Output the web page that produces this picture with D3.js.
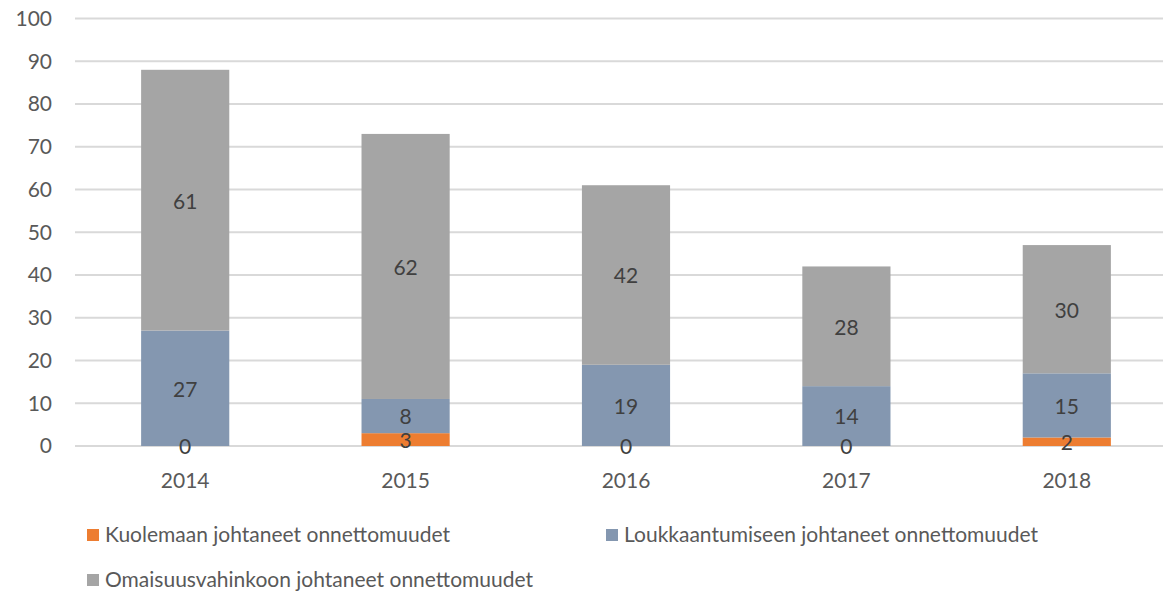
<!DOCTYPE html>
<html><head><meta charset="utf-8">
<script src="https://cdn.jsdelivr.net/npm/d3@7"></script>
<style>body{margin:0;background:#fff}svg{display:block}text{font-family:"Lato","Open Sans",sans-serif}</style>
</head><body><svg id="c" width="1163" height="597"></svg>
<script>
const categories = ["2014","2015","2016","2017","2018"];
const seriesNames = ["Kuolemaan johtaneet onnettomuudet","Loukkaantumiseen johtaneet onnettomuudet","Omaisuusvahinkoon johtaneet onnettomuudet"];
const kuolema = [0,3,0,0,2];
const loukkaantuminen = [27,8,19,14,15];
const omaisuus = [61,62,42,28,30];
const yTicks = [0,10,20,30,40,50,60,70,80,90,100];
const colors = ["#ED7D31","#8497B0","#A5A5A5"];

const svg = d3.select("#c");
const x = d3.scaleBand().domain(categories).range([75,1177]).paddingInner(0.6).paddingOuter(0.3);
const y = d3.scaleLinear().domain([0,100]).range([446,18.5]);

const rows = categories.map((c,i)=>({cat:c,k:kuolema[i],l:loukkaantuminen[i],o:omaisuus[i]}));
const stack = d3.stack().keys(["k","l","o"])(rows);

svg.append("g").selectAll("line").data(yTicks).join("line")
  .attr("x1",75).attr("x2",1177).attr("y1",d=>y(d)).attr("y2",d=>y(d))
  .attr("stroke","#D9D9D9").attr("stroke-width",2);

svg.append("g").selectAll("text").data(yTicks).join("text")
  .attr("x",52).attr("y",d=>y(d)).attr("dy","0.35em").attr("text-anchor","end")
  .attr("fill","#595959").attr("font-size",21).text(d=>d);

stack.forEach((s,si)=>{
  svg.append("g").selectAll("rect").data(s).join("rect")
    .attr("x",d=>x(d.data.cat)).attr("width",x.bandwidth())
    .attr("y",d=>y(d[1])).attr("height",d=>y(d[0])-y(d[1]))
    .attr("fill",colors[si]);
});
stack.forEach((s,si)=>{
  svg.append("g").selectAll("text").data(s).join("text")
    .attr("x",d=>x(d.data.cat)+x.bandwidth()/2)
    .attr("y",d=>y((d[0]+d[1])/2)).attr("dy","0.4em")
    .attr("text-anchor","middle").attr("fill","#404040").attr("font-size",21)
    .text(d=>d[1]-d[0]);
});

svg.append("g").selectAll("text").data(categories).join("text")
  .attr("x",d=>x(d)+x.bandwidth()/2).attr("y",481).attr("dy","0.35em")
  .attr("text-anchor","middle").attr("fill","#595959").attr("font-size",21).text(d=>d);

const legPos = [[87,535],[606,535],[87,580]];
seriesNames.forEach((n,i)=>{
  const g = svg.append("g").attr("transform",`translate(${legPos[i][0]},${legPos[i][1]})`);
  g.append("rect").attr("x",0).attr("y",-6).attr("width",12).attr("height",12).attr("fill",colors[i]);
  g.append("text").attr("x",18).attr("y",0).attr("dy","0.35em").attr("fill","#595959").attr("font-size",21).text(n);
});
</script></body></html>
